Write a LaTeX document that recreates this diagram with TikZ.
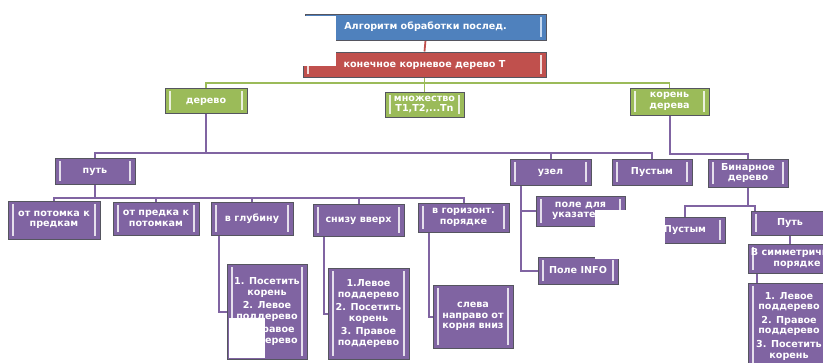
\documentclass[tikz,border=0pt]{standalone}
\usepackage{fontspec}
\usetikzlibrary{backgrounds}
\setmainfont{DejaVu Sans}
\definecolor{bluefill}{HTML}{4F81BD}
\definecolor{bluebar}{HTML}{C6D9F1}
\definecolor{redfill}{HTML}{C0504D}
\definecolor{redbar}{HTML}{F2DCDB}
\definecolor{greenfill}{HTML}{9BBB59}
\definecolor{greenbar}{HTML}{EBF1DE}
\definecolor{purpfill}{HTML}{8064A2}
\definecolor{purpbar}{HTML}{E5DFEC}
\definecolor{boxborder}{HTML}{55555F}
\tikzset{
  bars/.style={path picture={
    \draw[#1, line width=1.3pt] ([shift={(5pt,-3pt)}]path picture bounding box.north west) -- ([shift={(5pt,3pt)}]path picture bounding box.south west);
    \draw[#1, line width=1.3pt] ([shift={(-5pt,-3pt)}]path picture bounding box.north east) -- ([shift={(-5pt,3pt)}]path picture bounding box.south east);}},
  basebox/.style={draw=boxborder, line width=1pt, inner sep=1pt, align=center, text=white,
    font=\bfseries\fontsize{9.6}{10.6}\selectfont},
  oneline/.style={text height=7pt, text depth=2pt},
  bbox/.style={basebox, fill=bluefill, bars=bluebar},
  rbox/.style={basebox, fill=redfill, bars=redbar},
  gbox/.style={basebox, fill=greenfill, bars=greenbar},
  pbox/.style={basebox, fill=purpfill, bars=purpbar},
  gline/.style={draw=greenfill, line width=1.8pt},
  pline/.style={draw=purpfill, line width=2pt},
  rline/.style={draw=redfill, line width=1.8pt},
  patch/.style={fill=white, draw=none}
}
\newcommand\bx[7]{\node[#6, minimum width={#4pt-#2pt}, minimum height={#5pt-#3pt}] (#1) at ({(#2+#4)/2},{(#3+#5)/2}) {#7};}
\begin{document}
\begin{tikzpicture}[x=1pt,y=-1pt]
\useasboundingbox (0,0) rectangle (823,362);
\clip (0,0) rectangle (823,362);
% boxes
\bx{T1}{305}{14}{546}{40}{bbox,oneline}{Алгоритм обработки послед.}
\bx{T2}{303}{52}{546}{77}{rbox,oneline}{конечное корневое дерево Т}
\bx{G1}{165}{88}{247}{113}{gbox,oneline}{дерево}
\bx{G2}{385}{92}{464}{117}{gbox}{множество\\T1,T2,...Tn}
\bx{G3}{630}{88}{709}{115}{gbox}{корень\\дерева}
\bx{P}{55}{158}{135}{184}{pbox,oneline}{путь}
\bx{U}{510}{159}{591}{185}{pbox,oneline}{узел}
\bx{E1}{612}{159}{692}{185}{pbox,oneline}{Пустым}
\bx{B}{708}{159}{788}{187}{pbox}{Бинарное\\дерево}
\bx{L1}{8}{201}{100}{239}{pbox}{от потомка к\\предкам}
\bx{L2}{113}{202}{199}{235}{pbox}{от предка к\\потомкам}
\bx{L3}{211}{202}{293}{235}{pbox,oneline}{в глубину}
\bx{L4}{313}{204}{404}{236}{pbox,oneline}{снизу вверх}
\bx{L5}{418}{203}{509}{232}{pbox}{в горизонт.\\порядке}
\bx{D1}{227}{264}{307}{359}{pbox}{1. Посетить\\корень\\[3pt]2. Левое\\поддерево\\[3pt]3. Правое\\поддерево}
\bx{D2}{328}{268}{409}{359}{pbox}{1.Левое\\поддерево\\[3pt]2. Посетить\\корень\\[3pt]3. Правое\\поддерево}
\bx{D3}{433}{285}{513}{348}{pbox}{слева\\направо от\\корня вниз}
\bx{F1}{536}{196}{625}{226}{pbox}{поле для\\указателя}
\bx{F2}{538}{257}{618}{284}{pbox,oneline}{Поле INFO}
\bx{E2}{645}{217}{725}{243}{pbox,oneline}{Пустым}
\bx{R}{751}{211}{829}{235}{pbox,oneline}{Путь}
\bx{S}{748}{244}{846}{273}{pbox}{В симметричном\\порядке}
\bx{C}{748}{283}{830}{369}{pbox}{1. Левое\\поддерево\\[3pt]2. Правое\\поддерево\\[3pt]3. Посетить\\корень}
% tree connectors
\begin{scope}[on background layer]
\draw[rline] (T1.south) -- (T2.north);
\draw[gline] (T2.south) -- (T2.south |- 0,83) coordinate (gj);
\draw[gline] (G1.north) |- (gj) -| (G3.north);
\draw[gline] (gj) -- (G2.north);
\draw[pline] (G1.south) -- (G1.south |- 0,153) coordinate (pj);
\draw[pline] (P.north) |- (pj) -| (E1.north);
\draw[pline] (pj) -| (U.north);
\draw[pline] (G3.south) |- (B.north |- 0,154) -- (B.north);
\draw[pline] (P.south) -- (P.south |- 0,198) coordinate (lj);
\draw[pline] (L1.north) |- (lj) -| (L5.north);
\draw[pline] (lj) -| (L2.north);
\draw[pline] (lj) -| (L3.north);
\draw[pline] (lj) -| (L4.north);
\draw[pline] ([xshift=8pt]L3.south west) |- (D1.west);
\draw[pline] ([xshift=11pt]L4.south west) |- (D2.west);
\draw[pline] ([xshift=11pt]L5.south west) |- (D3.west);
\draw[pline] ([xshift=11pt]U.south west) |- (F2.west);
\draw[pline] ([xshift=11pt]U.south west) |- (F1.west);
\draw[pline] (B.south) -- (B.south |- 0,206) coordinate (bj);
\draw[pline] (E2.north) |- (bj) -| ([xshift=4pt]R.north west);
\draw[pline] (R.south) -- (R.south |- S.north);
\draw[pline] ([xshift=9pt]S.south west) -- ([xshift=9pt]C.north west);
\end{scope}
% white patches
\fill[patch] (302,15.6) rectangle (336,66);
\fill[patch] (229,318) rectangle (265,358);
\fill[patch] (595,210) rectangle (631,229);
\fill[patch] (595,252) rectangle (620,258.5);
\fill[patch] (638,214) rectangle (665,247);
\end{tikzpicture}
\end{document}
